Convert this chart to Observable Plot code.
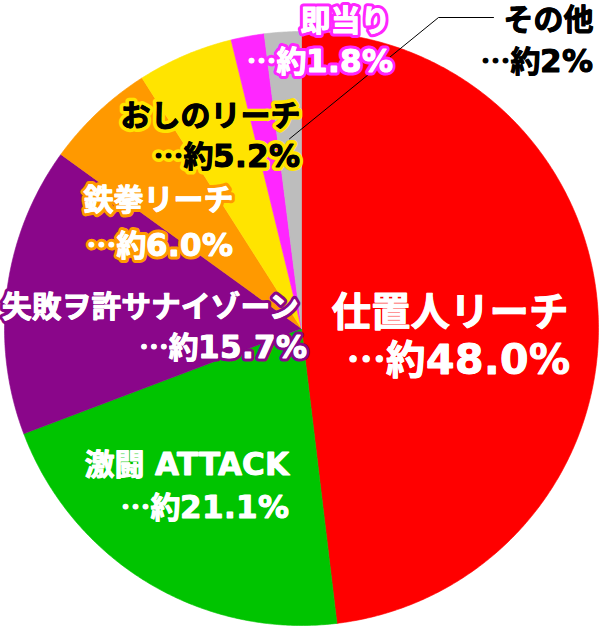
<!DOCTYPE html>
<html>
<head>
<meta charset="utf-8">
<script src="https://cdn.jsdelivr.net/npm/d3@7"></script>
<script src="https://cdn.jsdelivr.net/npm/@observablehq/plot@0.6"></script>
<style>
  @font-face {
    font-family: "LabelLatin";
    src: local("DejaVu Sans Bold"), local("DejaVuSans-Bold");
    font-weight: 100 900;
    unicode-range: U+0020-007E;
    size-adjust: 103%;
  }
  html, body { margin: 0; padding: 0; background: #fff; }
  #chart svg { display: block; }
</style>
</head>
<body>
<div id="chart"></div>
<script>
// ---- data ----
const categories = ["仕置人リーチ", "激闘 ATTACK", "失敗ヲ許サナイゾーン", "鉄拳リーチ", "おしのリーチ", "即当り", "その他"];
const values = [48.0, 21.1, 15.7, 6.0, 5.2, 1.8, 2];
const valueLabels = ["…約48.0%", "…約21.1%", "…約15.7%", "…約6.0%", "…約5.2%", "…約1.8%", "…約2%"];
const colors = ["#ff0000", "#00c400", "#8a068a", "#ff9900", "#ffe400", "#ff26ff", "#bdbdbd"];

// ---- layout (pixels) ----
const W = 600, H = 627;
const cx = 301, cy = 328, R = 297;
const FONT = "LabelLatin, 'Noto Sans CJK JP', sans-serif";
// per category: name line (x,y), value line (x,y), font size, text fill, halo colour, halo width
const labelLayout = [
  {nx: 568, ny: 313, vx: 569, vy: 361, size: 39.5, fill: "#fff", halo: "#ff0000", hw: 6},
  {nx: 289, ny: 465, vx: 289, vy: 508, size: 30, fill: "#fff", halo: "#00c400", hw: 6},
  {nx: 298, ny: 307, vx: 307, vy: 348, size: 29.8, fill: "#fff", halo: "#8a068a", hw: 7},
  {nx: 233, ny: 200, vx: 233, vy: 246, size: 30, fill: "#fff", halo: "#ff9900", hw: 7},
  {nx: 300, ny: 116, vx: 300, vy: 157, size: 30, fill: "#000", halo: "#ffe400", hw: 8},
  {nx: 390, ny: 21,  vx: 393, vy: 62,  size: 30, fill: "#fff", halo: "#ff26ff", hw: 7},
  {nx: 593, ny: 20,  vx: 593, vy: 62,  size: 30, fill: "#000", halo: "#fff",    hw: 7}
];

// ---- slices built from the values ----
const arcs = d3.pie().sort(null).value(d => d)(values);
const slicePts = [];
arcs.forEach((a, i) => {
  const cat = categories[i];
  slicePts.push({x: cx, y: cy, cat});
  const n = Math.max(2, Math.ceil((a.endAngle - a.startAngle) / (Math.PI / 360)));
  for (let k = 0; k <= n; k++) {
    const t = a.startAngle + (a.endAngle - a.startAngle) * k / n;
    slicePts.push({x: cx + R * Math.sin(t), y: cy - R * Math.cos(t), cat});
  }
  slicePts.push({x: cx, y: cy, cat});
});

// leader line for その他: from inside its slice to the label
const g = arcs[6];
const gm = (g.startAngle + g.endAngle) / 2;
const leader = [
  {x: cx + 0.64 * R * Math.sin(gm), y: cy - 0.64 * R * Math.cos(gm)},
  {x: 438, y: 17},
  {x: 493, y: 17}
];

// text rows
const textRows = [];
categories.forEach((c, i) => {
  const L = labelLayout[i];
  textRows.push({t: c, x: L.nx, y: L.ny, ...L});
  textRows.push({t: valueLabels[i], x: L.vx, y: L.vy, ...L});
});

const textMarks = textRows.flatMap(r => [
  Plot.text([r], {
    x: "x", y: "y", text: "t", textAnchor: "end",
    fontSize: r.size, fontWeight: 700, fontFamily: FONT,
    fill: r.fill, stroke: r.halo, strokeWidth: r.hw, strokeLinejoin: "round"
  }),
  Plot.text([r], {
    x: "x", y: "y", text: "t", textAnchor: "end",
    fontSize: r.size, fontWeight: 700, fontFamily: FONT,
    fill: r.fill, stroke: r.fill, strokeWidth: 0.9, strokeLinejoin: "round"
  })
]);

const chart = Plot.plot({
  width: W,
  height: H,
  margin: 0,
  x: {domain: [0, W], range: [0, W], axis: null},
  y: {domain: [0, H], range: [0, H], axis: null},
  color: {domain: categories, range: colors},
  style: {background: "#fff", overflow: "visible"},
  marks: [
    Plot.line(slicePts, {x: "x", y: "y", z: "cat", fill: "cat", stroke: "cat", strokeWidth: 0.6}),
    Plot.line(leader, {x: "x", y: "y", stroke: "#000", strokeWidth: 1}),
    ...textMarks
  ]
});
document.getElementById("chart").appendChild(chart);
</script>
</body>
</html>
